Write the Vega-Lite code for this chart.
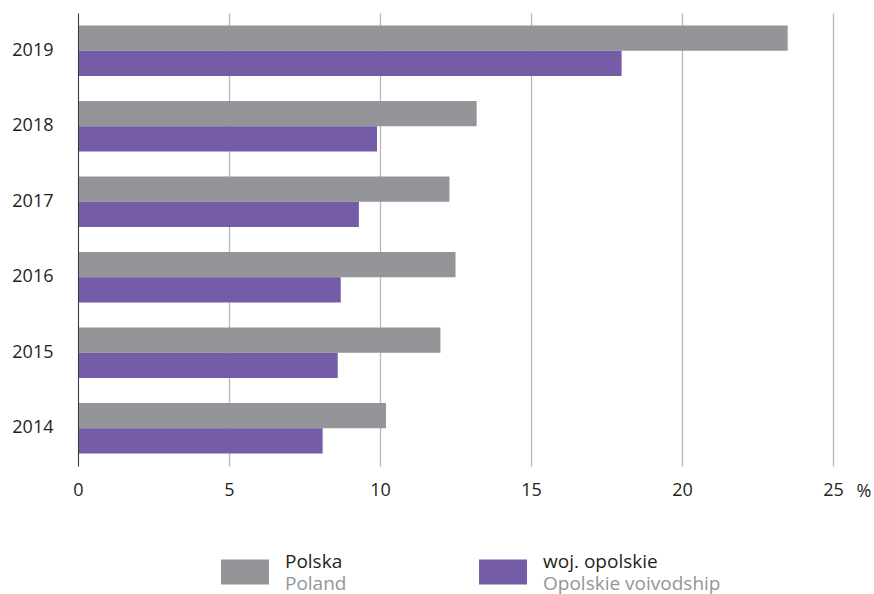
{
  "$schema": "https://vega.github.io/schema/vega-lite/v6.json",
  "padding": {"left": 11, "top": 13, "right": 2, "bottom": 0},
  "spacing": 52,
  "config": {"font": "Open Sans", "view": {"stroke": null}},
  "datasets": {
    "bars": [
      {"year": "2019", "series": "Polska", "value": 23.5},
      {"year": "2019", "series": "woj. opolskie", "value": 18.0},
      {"year": "2018", "series": "Polska", "value": 13.2},
      {"year": "2018", "series": "woj. opolskie", "value": 9.9},
      {"year": "2017", "series": "Polska", "value": 12.3},
      {"year": "2017", "series": "woj. opolskie", "value": 9.3},
      {"year": "2016", "series": "Polska", "value": 12.5},
      {"year": "2016", "series": "woj. opolskie", "value": 8.7},
      {"year": "2015", "series": "Polska", "value": 12.0},
      {"year": "2015", "series": "woj. opolskie", "value": 8.6},
      {"year": "2014", "series": "Polska", "value": 10.2},
      {"year": "2014", "series": "woj. opolskie", "value": 8.1}
    ],
    "legend": [
      {"series": "Polska", "pl": "Polska", "en": "Poland"},
      {"series": "woj. opolskie", "pl": "woj. opolskie", "en": "Opolskie voivodship"}
    ]
  },
  "vconcat": [
    {
      "width": 755,
      "height": 453,
      "data": {"name": "bars"},
      "mark": {"type": "bar"},
      "encoding": {
        "y": {
          "field": "year", "type": "nominal", "sort": "descending",
          "scale": {"paddingInner": 0.33, "paddingOuter": 0.165},
          "axis": {"title": null, "ticks": false, "domainColor": "#3a3a3a", "domainWidth": 1, "labelFontSize": 18, "labelColor": "#231f20", "labelPadding": 25, "grid": false, "zindex": 1}
        },
        "yOffset": {"field": "series", "type": "nominal", "sort": ["Polska", "woj. opolskie"]},
        "x": {
          "field": "value", "type": "quantitative",
          "scale": {"domain": [0, 25], "nice": false},
          "axis": {"values": [0, 5, 10, 15, 20, 25], "domain": false, "ticks": false, "grid": true, "gridColor": "#b9b9b9", "gridWidth": 1.3, "labelFontSize": 18, "labelFlush": false, "labelPadding": 15, "labelColor": "#231f20", "title": "%", "titleX": 778, "titleY": 30, "titleAlign": "left", "titleBaseline": "alphabetic", "titleFontWeight": "normal", "titleFontSize": 18, "titleColor": "#231f20"}
        },
        "color": {
          "field": "series", "type": "nominal",
          "scale": {"domain": ["Polska", "woj. opolskie"], "range": ["#939598", "#755ca6"]},
          "legend": null
        }
      }
    },
    {
      "width": 592,
      "height": 40,
      "data": {"name": "legend"},
      "encoding": {
        "x": {"field": "series", "type": "nominal", "sort": ["Polska", "woj. opolskie"], "scale": {"type": "point", "padding": 0.647}, "axis": null}
      },
      "layer": [
        {
          "mark": {"type": "point", "shape": "M-1,-0.52H1V0.52H-1Z", "size": 2304, "filled": true, "opacity": 1, "strokeWidth": 0},
          "encoding": {"color": {"field": "series", "type": "nominal", "scale": {"domain": ["Polska", "woj. opolskie"], "range": ["#939598", "#755ca6"]}, "legend": null}}
        },
        {
          "mark": {"type": "text", "align": "left", "baseline": "alphabetic", "dx": 40, "dy": -4, "fontSize": 19, "color": "#231f20"},
          "encoding": {"text": {"field": "pl"}}
        },
        {
          "mark": {"type": "text", "align": "left", "baseline": "alphabetic", "dx": 40, "dy": 18, "fontSize": 19, "color": "#939598"},
          "encoding": {"text": {"field": "en"}}
        }
      ]
    }
  ]
}
